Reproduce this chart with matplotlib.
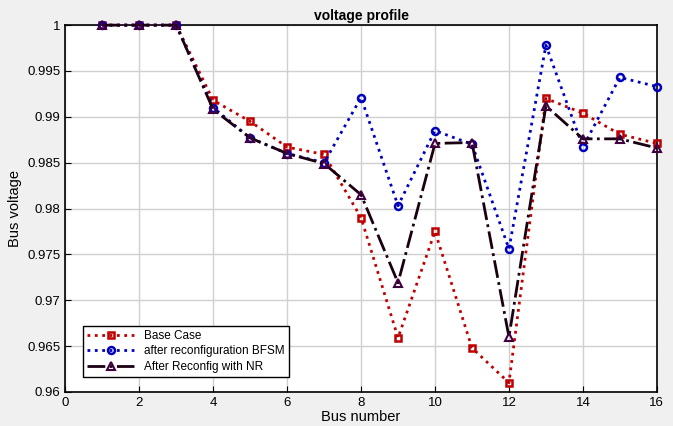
import matplotlib.pyplot as plt
import numpy as np

bus = np.arange(1, 17)
base_case = [1.0, 1.0, 1.0, 0.9918, 0.9895, 0.9867, 0.9859, 0.9790, 0.9659,
             0.9775, 0.9648, 0.9610, 0.9920, 0.9904, 0.9881, 0.9871]
bfsm = [1.0, 1.0, 1.0, 0.9910, 0.9877, 0.9860, 0.9850, 0.9921, 0.9803,
        0.9885, 0.9870, 0.9756, 0.9978, 0.9867, 0.9943, 0.9933]
nr = [1.0, 1.0, 1.0, 0.9908, 0.9877, 0.9860, 0.9849, 0.9815, 0.9719,
      0.9871, 0.9872, 0.9660, 0.9912, 0.9876, 0.9876, 0.9866]
labels = ["Base Case", "after reconfiguration BFSM", "After Reconfig with NR"]


def main():
    plt.rcParams["font.family"] = ["Liberation Sans", "DejaVu Sans"]
    fig = plt.figure(figsize=(6.73, 4.26), dpi=100, facecolor="#f0f0f0")
    ax = fig.add_axes([0.097, 0.080, 0.879, 0.861])

    ax.plot(bus, base_case, ":s", color="#c00000", lw=2, ms=5,
            mfc="none", mew=1.8, label=labels[0], clip_on=False, zorder=3)
    ax.plot(bus, bfsm, ":o", color="#0000c0", lw=2, ms=5,
            mfc="none", mew=1.8, label=labels[1], clip_on=False, zorder=3)
    ax.plot(bus, nr, "-.^", color="#1a0010", lw=2, ms=6,
            mfc="none", mec="#400040", mew=1.5, label=labels[2],
            clip_on=False, zorder=3)

    ax.set_xlim(0, 16)
    ax.set_ylim(0.96, 1.0)
    ax.set_xticks(np.arange(0, 17, 2))
    ax.set_yticks(np.arange(0.96, 1.0001, 0.005))
    ax.set_yticklabels(["0.96", "0.965", "0.97", "0.975", "0.98",
                        "0.985", "0.99", "0.995", "1"])
    ax.grid(True, color="#d0d0d0", lw=1)
    ax.tick_params(direction="in", labelsize=9.5, length=4)
    for s in ax.spines.values():
        s.set_linewidth(1.2)

    ax.set_title("voltage profile", fontsize=10, fontweight="bold", pad=4)
    ax.set_xlabel("Bus number", fontsize=10.5, labelpad=1)
    ax.set_ylabel("Bus voltage", fontsize=10.5)

    leg = ax.legend(loc="lower left", bbox_to_anchor=(0.02, 0.025), fontsize=8.5,
                    fancybox=False, framealpha=1, edgecolor="black",
                    handlelength=4, borderpad=0.35, labelspacing=0.3)
    leg.get_frame().set_linewidth(1.0)

    plt.savefig("out.png", dpi=100, facecolor=fig.get_facecolor())
    plt.close()


main()
